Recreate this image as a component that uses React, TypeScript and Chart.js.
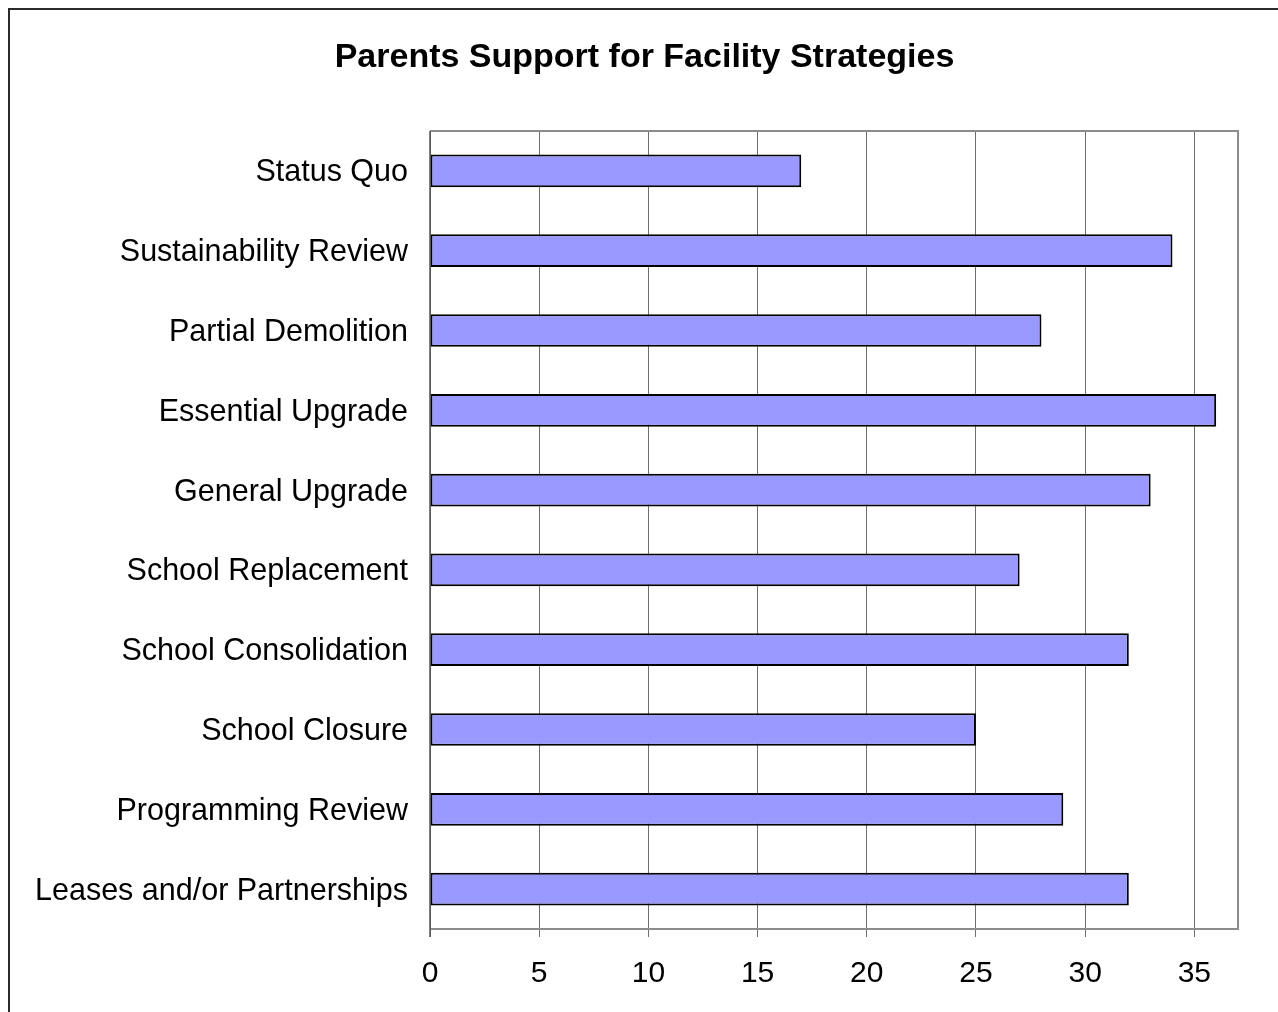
import React, { useEffect, useRef } from "react";
import { Chart, registerables } from "chart.js";

Chart.register(...registerables);

const categories = [
  "Status Quo",
  "Sustainability Review",
  "Partial Demolition",
  "Essential Upgrade",
  "General Upgrade",
  "School Replacement",
  "School Consolidation",
  "School Closure",
  "Programming Review",
  "Leases and/or Partnerships",
];
const supportValues = [17, 34, 28, 36, 33, 27, 32, 25, 29, 32];
const xTickValues = [0, 5, 10, 15, 20, 25, 30, 35];
const titleText = "Parents Support for Facility Strategies";

const FONT = "'Liberation Sans', Arial, sans-serif";

const framePlugin = {
  id: "framePlugin",
  afterDraw(chart: any) {
    const { ctx, chartArea } = chart;
    ctx.save();
    // outer frame
    ctx.strokeStyle = "#2a2a2a";
    ctx.lineWidth = 2;
    ctx.beginPath();
    ctx.moveTo(9, 1012);
    ctx.lineTo(9, 9);
    ctx.lineTo(1278, 9);
    ctx.stroke();
    // plot border
    ctx.strokeStyle = "#8c8c8c";
    ctx.lineWidth = 2;
    ctx.beginPath();
    ctx.moveTo(chartArea.left, chartArea.top);
    ctx.lineTo(chartArea.right, chartArea.top);
    ctx.lineTo(chartArea.right, chartArea.bottom);
    ctx.lineTo(chartArea.left, chartArea.bottom);
    ctx.stroke();
    ctx.strokeStyle = "#555555";
    ctx.lineWidth = 1.5;
    ctx.beginPath();
    ctx.moveTo(chartArea.left, chartArea.top);
    ctx.lineTo(chartArea.left, chartArea.bottom + 8);
    ctx.stroke();
    // title
    ctx.fillStyle = "#000";
    ctx.font = "bold 34px " + FONT;
    ctx.textAlign = "center";
    ctx.textBaseline = "middle";
    ctx.fillText(titleText, 644.5, 57.5);
    ctx.restore();
  },
};

export default function App() {
  const canvasRef = useRef<HTMLCanvasElement | null>(null);

  useEffect(() => {
    if (!canvasRef.current) return;
    Chart.defaults.font.family = FONT;
    Chart.defaults.color = "#000";
    const chart = new Chart(canvasRef.current, {
      type: "bar",
      data: {
        labels: categories,
        datasets: [
          {
            label: "Support",
            data: supportValues,
            backgroundColor: "#9999FF",
            borderColor: "#000000",
            borderWidth: 2,
            borderSkipped: false,
            barPercentage: 0.41,
            categoryPercentage: 1,
          },
        ],
      },
      options: {
        indexAxis: "y",
        animation: false,
        responsive: true,
        maintainAspectRatio: false,
        layout: { padding: { left: 0, right: 40, top: 131, bottom: 0 } },
        plugins: {
          legend: { display: false },
          tooltip: { enabled: false },
          title: { display: false },
        },
        scales: {
          x: {
            type: "linear",
            min: 0,
            max: 37,
            afterBuildTicks: (scale: any) => {
              scale.ticks = xTickValues.map((v) => ({ value: v }));
            },
            afterFit: (scale: any) => {
              scale.height = 83;
            },
            ticks: {
              font: { size: 30 },
              color: "#000",
              padding: 19,
            },
            grid: {
              color: "#6e6e6e",
              lineWidth: 1,
              tickLength: 8,
              drawTicks: true,
            },
            border: { display: false },
          },
          y: {
            afterFit: (scale: any) => {
              scale.width = 430;
            },
            ticks: {
              font: { size: 30.5 },
              color: "#000",
              padding: 22,
              labelOffset: 2,
            },
            grid: { display: false, drawTicks: false },
            border: { display: false },
          },
        },
      },
      plugins: [framePlugin],
    } as any);
    return () => chart.destroy();
  }, []);

  return (
    <div style={{ position: "fixed", left: 0, top: 0, width: 1278, height: 1012, background: "#fff" }}>
      <canvas ref={canvasRef} />
    </div>
  );
}
